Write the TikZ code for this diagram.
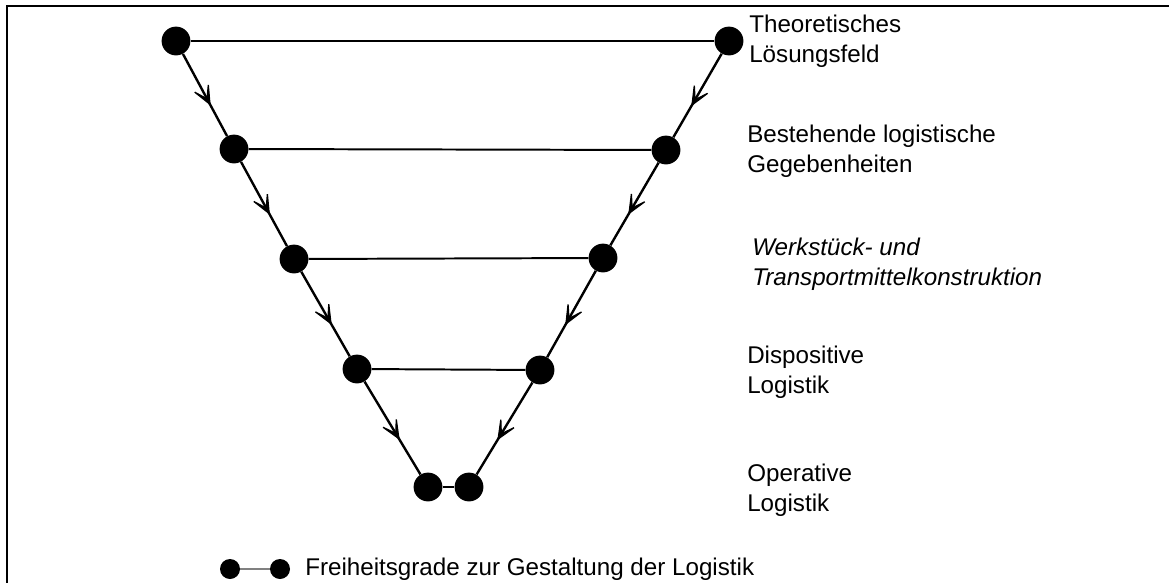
\documentclass[tikz,border=0pt]{standalone}
\usepackage{fontspec}
\setmainfont{Liberation Sans}
\usetikzlibrary{arrows.meta,decorations.markings}

\begin{document}
\begin{tikzpicture}[
                dot/.style={circle, fill=black, draw=none, minimum size=7.2mm, inner sep=0pt},
                smalldot/.style={circle, fill=black, draw=none, minimum size=5mm, inner sep=0pt},
                lbl/.style={anchor=base west, align=left, inner sep=0pt, font=\fontsize{17.2}{21.3}\selectfont},
                level/.style={line width=1.4pt},
                flow/.style={line width=1.7pt, postaction={decorate},
                    decoration={markings, mark=at position 0.63 with {\arrow[line width=0.9pt]{Stealth[length=6.5mm, width=5.6mm, inset=4.3mm]}}}}
            ]
            \useasboundingbox (0,0) rectangle (29.225,-14.575);

            % frame
            \draw[line width=2.1pt] (0.175,-14.575) -- (0.175,-0.15) -- (29.225,-0.15);

            % degrees of freedom, left and right
            \node[dot] (l1) at (4.4,-1.025) {};
            \node[dot] (r1) at (18.225,-1.025) {};
            \node[dot] (l2) at (5.85,-3.725) {};
            \node[dot] (r2) at (16.65,-3.75) {};
            \node[dot] (l3) at (7.35,-6.475) {};
            \node[dot] (r3) at (15.075,-6.45) {};
            \node[dot] (l4) at (8.925,-9.225) {};
            \node[dot] (r4) at (13.5,-9.25) {};
            \node[dot] (l5) at (10.7,-12.175) {};
            \node[dot] (r5) at (11.725,-12.175) {};

            % levels
            \draw[level] (l1) -- (r1);
            \draw[level] (l2) -- (r2);
            \draw[level] (l3) -- (r3);
            \draw[level] (l4) -- (r4);
            \draw[level] (l5) -- (r5);

            % narrowing
            \draw[flow] (l1) -- (l2);
            \draw[flow] (l2) -- (l3);
            \draw[flow] (l3) -- (l4);
            \draw[flow] (l4) -- (l5);
            \draw[flow] (r1) -- (r2);
            \draw[flow] (r2) -- (r3);
            \draw[flow] (r3) -- (r4);
            \draw[flow] (r4) -- (r5);

            % labels (base = last line)
            \node[lbl] (theo) at (18.725,-1.55) {Theoretisches\\Lösungsfeld};
            \node[lbl] (best) at (18.675,-4.3) {Bestehende logistische\\Gegebenheiten};
            \node[lbl, font=\fontsize{17.2}{21.3}\selectfont\itshape] (werk) at (18.8,-7.125) {Werkstück- und\\Transportmittelkonstruktion};
            \node[lbl] (disp) at (18.675,-9.825) {Dispositive\\Logistik};
            \node[lbl] (oper) at (18.675,-12.775) {Operative\\Logistik};

            % legend
            \node[smalldot] (leg1) at (5.75,-14.225) {};
            \node[smalldot] (leg2) at (7.0,-14.225) {};
            \draw[gray, line width=0.9pt] (leg1) -- (leg2);
            \node[lbl] (legtext) at (7.625,-14.375) {Freiheitsgrade zur Gestaltung der Logistik};

            \end{tikzpicture}
\end{document}
